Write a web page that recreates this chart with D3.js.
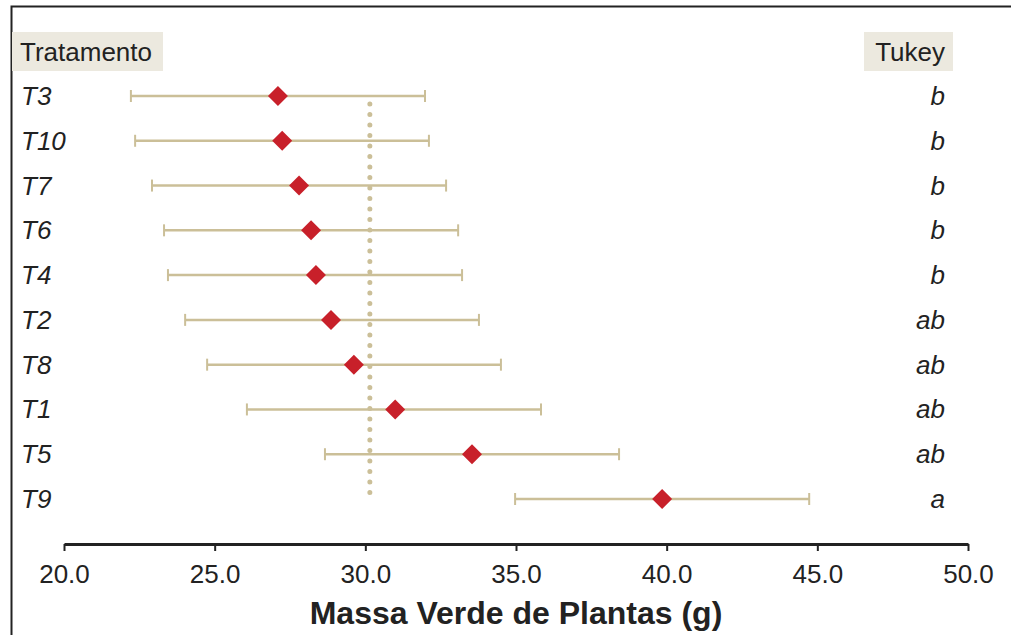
<!DOCTYPE html>
<html lang="pt">
<head>
<meta charset="UTF-8">
<title>Massa Verde de Plantas</title>
<script src="https://d3js.org/d3.v7.min.js"></script>
<style>
    body { margin: 0; padding: 0; background: #fff; }
    svg { display: block; font-family: 'Liberation Sans', Arial, sans-serif; }
</style>
</head>
<body>
<div id="chart"></div>
<script>
// data
var treatments = ["T3", "T10", "T7", "T6", "T4", "T2", "T8", "T1", "T5", "T9"];
var means      = [27.10, 27.24, 27.80, 28.20, 28.36, 28.86, 29.62, 30.99, 33.54, 39.85];
var lower      = [22.22, 22.36, 22.92, 23.32, 23.45, 24.02, 24.75, 26.07, 28.66, 34.97];
var upper      = [31.98, 32.11, 32.68, 33.08, 33.21, 33.77, 34.50, 35.83, 38.42, 44.73];
var tukey      = ["b", "b", "b", "b", "b", "ab", "ab", "ab", "ab", "a"];
var grandMean  = 30.15;
var xTicks     = [20, 25, 30, 35, 40, 45, 50];

var W = 1011, H = 635;
var svg = d3.select("#chart").append("svg")
    .attr("width", W)
    .attr("height", H);

// frame (top + left)
svg.append("path")
    .attr("d", "M11.5," + H + "V6.5H" + W)
    .attr("fill", "none")
    .attr("stroke", "#222")
    .attr("stroke-width", 2);

var x = d3.scaleLinear().domain([20, 50]).range([64, 968]);
var y = d3.scalePoint().domain(treatments).range([96, 499]);

var tan = "#cbbf98";

// header boxes
svg.append("rect").attr("x", 12).attr("y", 32).attr("width", 151).attr("height", 39).attr("fill", "#ece9df");
svg.append("text").attr("x", 20).attr("y", 61).attr("font-size", 26).attr("fill", "#222").text("Tratamento");
svg.append("rect").attr("x", 864).attr("y", 32).attr("width", 89).attr("height", 39).attr("fill", "#ece9df");
svg.append("text").attr("x", 945).attr("y", 61).attr("text-anchor", "end").attr("font-size", 26).attr("fill", "#222").text("Tukey");

// grand mean dotted line
svg.append("line")
    .attr("x1", x(grandMean)).attr("x2", x(grandMean))
    .attr("y1", 104).attr("y2", 499)
    .attr("stroke", tan)
    .attr("stroke-width", 5)
    .attr("stroke-linecap", "round")
    .attr("stroke-dasharray", "0,10.5");

var rows = svg.append("g").selectAll("g")
    .data(treatments)
    .enter().append("g")
    .attr("transform", function (d) { return "translate(0," + y(d) + ")"; });

rows.append("line")
    .attr("x1", function (d, i) { return x(lower[i]); })
    .attr("x2", function (d, i) { return x(upper[i]); })
    .attr("stroke", tan).attr("stroke-width", 2.5);
rows.append("line")
    .attr("x1", function (d, i) { return x(lower[i]); })
    .attr("x2", function (d, i) { return x(lower[i]); })
    .attr("y1", -6).attr("y2", 6)
    .attr("stroke", tan).attr("stroke-width", 2);
rows.append("line")
    .attr("x1", function (d, i) { return x(upper[i]); })
    .attr("x2", function (d, i) { return x(upper[i]); })
    .attr("y1", -6).attr("y2", 6)
    .attr("stroke", tan).attr("stroke-width", 2);

rows.append("path")
    .attr("d", "M0,-10L10,0L0,10L-10,0Z")
    .attr("transform", function (d, i) { return "translate(" + x(means[i]) + ",0)"; })
    .attr("fill", "#c8202a");

rows.append("text")
    .attr("x", 21).attr("y", 9)
    .attr("font-size", 26).attr("font-style", "italic").attr("fill", "#222")
    .text(function (d) { return d; });

rows.append("text")
    .attr("x", 945).attr("y", 9)
    .attr("text-anchor", "end")
    .attr("font-size", 26).attr("font-style", "italic").attr("fill", "#222")
    .text(function (d, i) { return tukey[i]; });

// x axis
var axis = svg.append("g")
    .attr("transform", "translate(0,544)")
    .call(d3.axisBottom(x).tickValues(xTicks).tickSize(7).tickSizeOuter(0).tickPadding(14)
        .tickFormat(d3.format(".1f")));
axis.attr("font-size", 26).attr("font-family", "'Liberation Sans', Arial, sans-serif");
axis.select(".domain").attr("stroke", "#222").attr("stroke-width", 3);
axis.selectAll(".tick line").attr("stroke", "#222").attr("stroke-width", 2);
axis.selectAll(".tick text").attr("fill", "#222");

svg.append("text")
    .attr("x", (x(20) + x(50)) / 2).attr("y", 624)
    .attr("text-anchor", "middle")
    .attr("font-size", 32).attr("font-weight", "bold").attr("fill", "#222")
    .text("Massa Verde de Plantas (g)");
</script>
</body>
</html>
